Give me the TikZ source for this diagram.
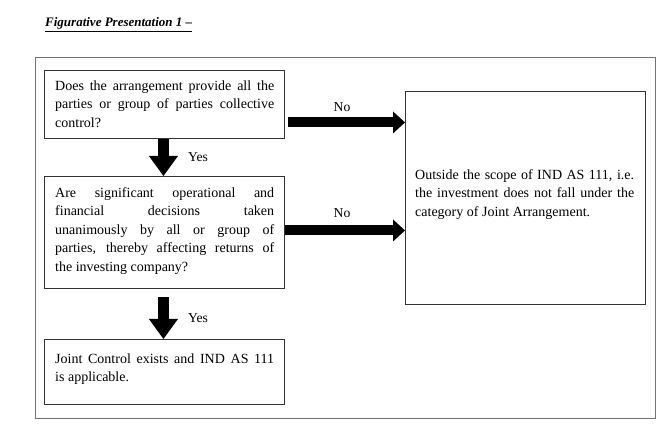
\documentclass[tikz,border=0pt]{standalone}
\usepackage{fontspec}
\setmainfont{Liberation Serif}
\usetikzlibrary{arrows.meta}
\newcommand\jline[1]{\hbox to 219pt{\spaceskip=.25em plus 1fil minus .12em\relax #1}}
\newcommand\lline[1]{\hbox to 219pt{#1\hfil}}
\newcommand\tlines[1]{\vbox{\hsize=219pt\baselineskip=18.4pt #1}}
\tikzset{
  boxst/.style={draw=black!80, line width=0.9pt, anchor=north west, inner sep=0pt},
  txt/.style={anchor=north west, inner sep=0pt,
    font=\fontsize{14}{18.4}\selectfont},
  lbl/.style={inner sep=0pt, anchor=base, font=\fontsize{13.6}{16}\selectfont},
  harrow/.style={line width=10pt, -{Triangle[length=12pt, width=22pt, line width=0pt]}},
  varrow/.style={line width=11pt, -{Triangle[length=20pt, width=29pt, line width=0pt]}},
}
\begin{document}
\begin{tikzpicture}[x=1pt,y=-1pt]
\useasboundingbox (0,0) rectangle (664,438);
\node[anchor=base west, inner sep=0pt, font=\fontsize{13}{15}\selectfont\bfseries\itshape] (title) at (45,27) {\underline{Figurative Presentation 1 –}};
\node[draw=black!55, line width=1.2pt, anchor=north west, inner sep=0pt, minimum width=620pt, minimum height=361pt] (frame) at (35,57) {};
\node[boxst, minimum width=240pt, minimum height=68pt] (b1) at (44,70) {};
\node[boxst, minimum width=240pt, minimum height=112pt] (b2) at (44,176) {};
\node[boxst, minimum width=240pt, minimum height=65pt] (b3) at (44,339) {};
\node[boxst, minimum width=240pt, minimum height=213pt] (rb) at (405,91) {};
\node[txt] (t1) at (55,80.5) {\tlines{\jline{Does the arrangement provide all the}\jline{parties or group of parties collective}\lline{control?}}};
\node[txt] (t2) at (55,187.5) {\tlines{\jline{Are significant operational and}\jline{financial decisions taken}\jline{unanimously by all or group of}\jline{parties, thereby affecting returns of}\lline{the investing company?}}};
\node[txt] (t3) at (55,353.5) {\tlines{\jline{Joint Control exists and IND AS 111}\lline{is applicable.}}};
\node[txt] (t4) at (415,169.5) {\tlines{\jline{Outside the scope of IND AS 111, i.e.}\jline{the investment does not fall under the}\lline{category of Joint Arrangement.}}};
\draw[harrow] ([xshift=3pt,yshift=-18pt]b1.east) -- ([yshift=-18pt]b1.east -| rb.west);
\draw[harrow] ([yshift=2pt]b2.east) -- ([yshift=2pt]b2.east -| rb.west);
\draw[varrow] ([xshift=-1pt]b1.south) -- ([xshift=-1pt]b2.north);
\draw[varrow] ([xshift=-1pt,yshift=-8pt]b2.south) -- ([xshift=-1pt]b3.north);
\node[lbl] (no1) at (342,112) {No};
\node[lbl] (no2) at (342,218) {No};
\node[lbl, anchor=base west] (yes1) at (188,162) {Yes};
\node[lbl, anchor=base west] (yes2) at (188,323) {Yes};
\end{tikzpicture}
\end{document}
